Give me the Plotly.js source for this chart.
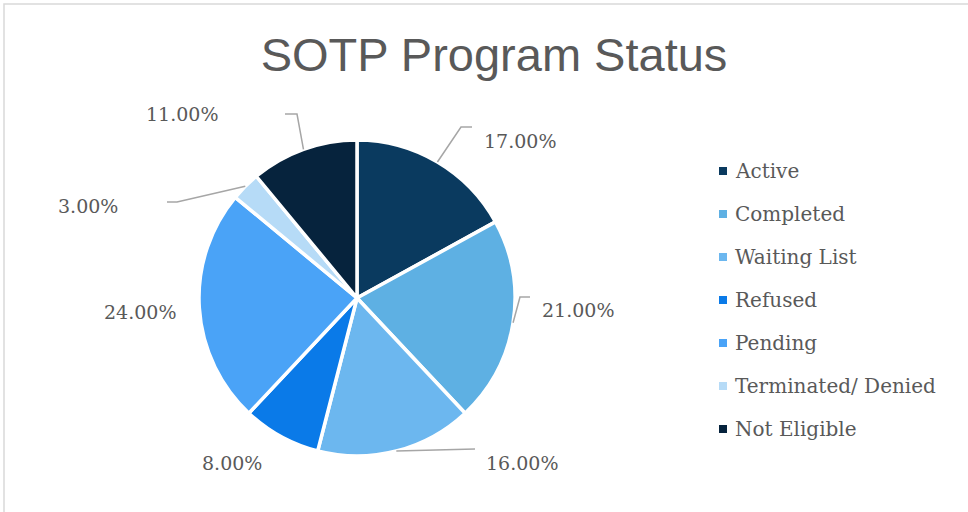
<!DOCTYPE html>
<html>
<head>
<meta charset="utf-8">
<script src="https://cdn.plot.ly/plotly-3.0.1.min.js"></script>
<style>html,body{margin:0;padding:0;background:#fff;}#chart{width:968px;height:512px;}</style>
</head>
<body>
<div id="chart"></div>
<script>
// ---- data ----
const categories = ["Active", "Completed", "Waiting List", "Refused", "Pending", "Terminated/ Denied", "Not Eligible"];
const values = [17, 21, 16, 8, 24, 3, 11];
const colors = ["#0a3a5f", "#5eb0e3", "#6cb7ef", "#0a7ae8", "#4aa3f7", "#b6dbf7", "#06233d"];
const chartTitle = "SOTP Program Status";

// ---- layout helpers (pixels) ----
const W = 968, H = 512;
const cx = 357, cy = 298, R = 158;
const px = x => x / W;
const py = y => 1 - y / H;

// label placement & leader elbows (layout, pixel)
const labelLayout = [
  {x: 482, y: 141, anchor: "left",  elbow: [[461,127],[472,127]]},
  {x: 540, y: 310, anchor: "left",  elbow: [[520,297],[530,297]]},
  {x: 484, y: 463, anchor: "left",  elbow: [[475,449]]},
  {x: 232, y: 463, anchor: "center", elbow: null},
  {x: 178, y: 312, anchor: "right", elbow: null},
  {x: 120, y: 206, anchor: "right", elbow: [[177,202],[167,202]]},
  {x: 220, y: 114, anchor: "right", elbow: [[297,114],[285,114]]}
];

const total = values.reduce((a,b)=>a+b,0);
const labelFont = {family: "DejaVu Serif, Georgia, serif", size: 19, color: "#595959"};
const legendFont = {family: "DejaVu Serif, Georgia, serif", size: 20, color: "#595959"};

const annotations = [];
const shapes = [];

// border
shapes.push({type:"rect", xref:"paper", yref:"paper", x0:px(4), x1:1.02, y0:-0.02, y1:py(4),
  line:{color:"#d9d9d9", width:1.5}, fillcolor:"rgba(0,0,0,0)", layer:"below"});

let cum = 0;
values.forEach((v, i) => {
  const mid = 2*Math.PI*(cum + v/2)/total;
  cum += v;
  const ex = cx + R*Math.sin(mid), ey = cy - R*Math.cos(mid);
  const L = labelLayout[i];
  annotations.push({
    xref:"paper", yref:"paper", x:px(L.x), y:py(L.y), xanchor:L.anchor, yanchor:"middle",
    text: v.toFixed(2) + "%", showarrow:false, font:labelFont
  });
  if (L.elbow) {
    let d = "M " + px(ex) + "," + py(ey);
    L.elbow.forEach(p => { d += " L " + px(p[0]) + "," + py(p[1]); });
    shapes.push({type:"path", xref:"paper", yref:"paper", path:d, line:{color:"#a6a6a6", width:1.5}});
  }
});

// legend (custom, built from categories/colors)
const legX = 719, legTextX = 733, legY0 = 171, legStep = 43, sq = 8;
categories.forEach((c, i) => {
  const y = legY0 + i*legStep;
  shapes.push({type:"rect", xref:"paper", yref:"paper",
    x0:px(legX), x1:px(legX+sq), y0:py(y+sq/2), y1:py(y-sq/2),
    fillcolor:colors[i], line:{width:0}});
  annotations.push({xref:"paper", yref:"paper", x:px(legTextX), y:py(y), xanchor:"left", yanchor:"middle",
    text:c, showarrow:false, font:legendFont});
});

const trace = {
  type: "pie",
  labels: categories,
  values: values,
  sort: false,
  direction: "clockwise",
  rotation: 0,
  textinfo: "none",
  hoverinfo: "label+percent",
  marker: {colors: colors, line: {color: "#ffffff", width: 3.5}},
  domain: {x: [px(cx - R), px(cx + R)], y: [py(cy + R), py(cy - R)]},
  showlegend: false
};

const layout = {
  width: W, height: H,
  margin: {l:0, r:0, t:0, b:0},
  paper_bgcolor: "#ffffff",
  title: {text: chartTitle, x: px(494), xref: "paper", xanchor: "center",
          y: py(55), yref: "container", yanchor: "middle",
          font: {family: "Liberation Sans, Arial, sans-serif", size: 47, color: "#595959"}},
  showlegend: false,
  annotations: annotations,
  shapes: shapes
};

Plotly.newPlot("chart", [trace], layout, {displayModeBar:false, staticPlot:true});
</script>
</body>
</html>
